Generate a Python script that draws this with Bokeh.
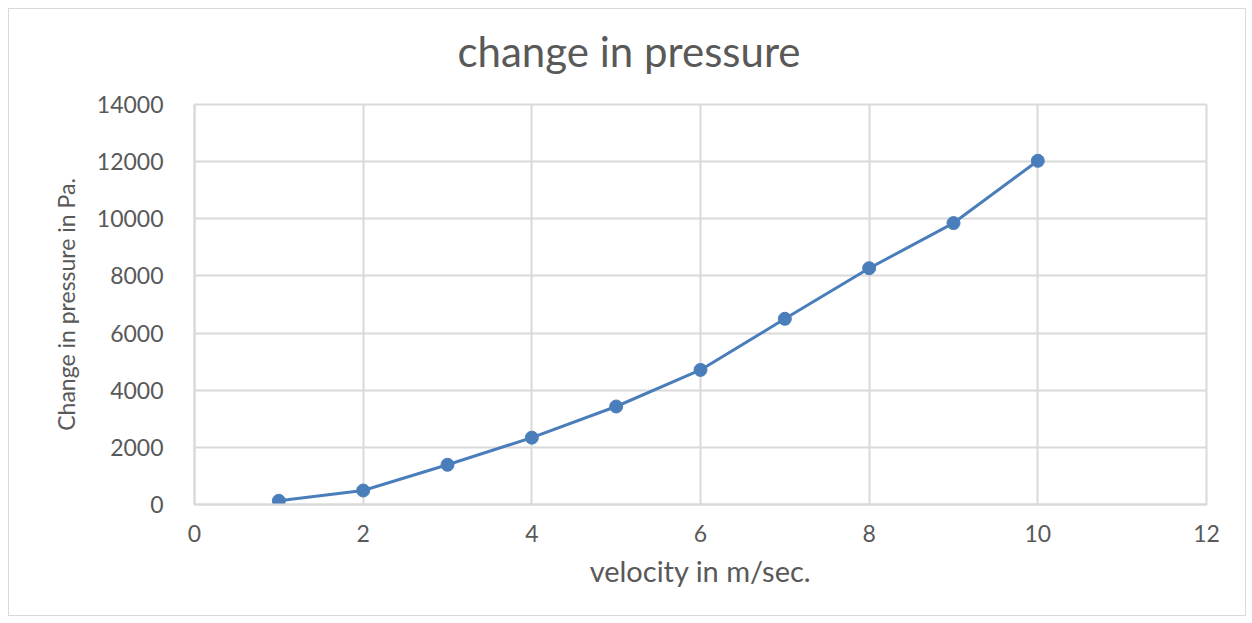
from bokeh.plotting import figure
from bokeh.models import FixedTicker, Range1d, Title
from bokeh.embed import file_html
from bokeh.resources import INLINE

velocity = [1, 2, 3, 4, 5, 6, 7, 8, 9, 10]
pressure = [130, 490, 1390, 2340, 3430, 4710, 6500, 8270, 9850, 12030]
x_ticks = [0, 2, 4, 6, 8, 10, 12]
y_ticks = [0, 2000, 4000, 6000, 8000, 10000, 12000, 14000]
title_text = "change in pressure"

TEXT = "#595959"
GRID = "#d9d9d9"
BLUE = "#4a7ebb"
FONT = "Lato"

p = figure(width=1238, height=608, output_backend="svg", toolbar_location=None,
           x_range=Range1d(0, 12), y_range=Range1d(0, 14000), title=title_text)
p.styles = {"border": "1px solid #d9d9d9", "margin-left": "8px", "margin-top": "8px"}
p.min_border_left = 185
p.min_border_right = 41
p.min_border_top = 95
p.min_border_bottom = 113
p.outline_line_color = GRID
p.outline_line_width = 2

# spacer between plot frame and title (pushes the title upwards)
p.add_layout(Title(text=" ", text_font_size="1px", standoff=26), "above")

p.title.align = "left"
p.title.offset = 263
p.title.text_font = FONT
p.title.text_font_size = "42px"
p.title.text_font_style = "normal"
p.title.text_color = TEXT
p.title.standoff = 0

for ax in (p.xaxis[0], p.yaxis[0]):
    ax.axis_line_color = GRID
    ax.axis_line_width = 2
    ax.major_tick_line_color = None
    ax.minor_tick_line_color = None
    ax.major_label_text_font = FONT
    ax.major_label_text_font_size = "23px"
    ax.major_label_text_color = TEXT
    ax.axis_label_text_font = FONT
    ax.axis_label_text_font_style = "normal"
    ax.axis_label_text_color = TEXT

p.xaxis.ticker = FixedTicker(ticks=x_ticks)
p.yaxis.ticker = FixedTicker(ticks=y_ticks)
p.xaxis.axis_label = "velocity in m/sec."
p.yaxis.axis_label = "Change in pressure in Pa."
p.xaxis.axis_label_text_font_size = "29px"
p.yaxis.axis_label_text_font_size = "23px"
p.xaxis.major_label_standoff = 14
p.yaxis.major_label_standoff = 25
p.xaxis.axis_label_standoff = 8
p.yaxis.axis_label_standoff = 14

p.xgrid.ticker = FixedTicker(ticks=x_ticks)
p.ygrid.ticker = FixedTicker(ticks=y_ticks)
p.grid.grid_line_color = GRID
p.grid.grid_line_width = 2

p.line(velocity, pressure, line_color=BLUE, line_width=3)
p.scatter(velocity, pressure, size=13, fill_color=BLUE, line_color=BLUE)

open("out.html", "w").write(file_html(p, INLINE))
